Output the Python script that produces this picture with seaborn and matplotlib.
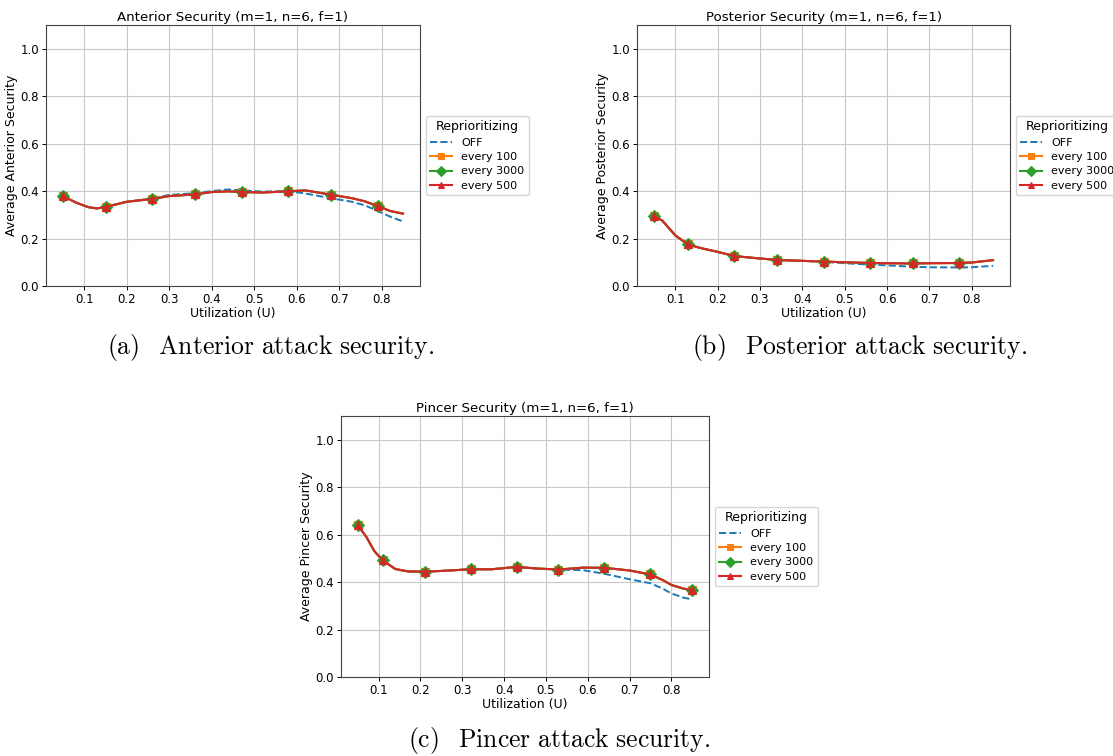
import matplotlib
matplotlib.use("Agg")
import matplotlib.pyplot as plt
import seaborn as sns

# --- data ---
# Anterior
ant_x = [0.05, 0.08, 0.11, 0.13, 0.15, 0.20, 0.26, 0.30, 0.36, 0.40, 0.44, 0.47,
         0.52, 0.58, 0.62, 0.68, 0.73, 0.76, 0.79, 0.82, 0.85]
ant_reprio = [0.379, 0.352, 0.332, 0.327, 0.333, 0.355, 0.367, 0.379, 0.386, 0.396, 0.399, 0.396,
              0.394, 0.399, 0.403, 0.385, 0.370, 0.357, 0.337, 0.316, 0.305]
ant_off = [0.379, 0.352, 0.332, 0.327, 0.333, 0.355, 0.369, 0.384, 0.391, 0.400, 0.407, 0.403,
           0.398, 0.400, 0.390, 0.370, 0.355, 0.340, 0.317, 0.292, 0.272]
ant_marks = [0.05, 0.15, 0.26, 0.36, 0.47, 0.58, 0.68, 0.79]

# Posterior
post_x = [0.05, 0.07, 0.10, 0.13, 0.16, 0.20, 0.24, 0.30, 0.34, 0.40, 0.45, 0.50,
          0.56, 0.60, 0.66, 0.70, 0.77, 0.80, 0.85]
post_reprio = [0.296, 0.275, 0.214, 0.175, 0.160, 0.144, 0.126, 0.116, 0.110, 0.106, 0.103, 0.100,
               0.097, 0.096, 0.095, 0.096, 0.097, 0.099, 0.109]
post_off = [0.296, 0.275, 0.214, 0.175, 0.160, 0.144, 0.126, 0.116, 0.110, 0.106, 0.102, 0.096,
            0.090, 0.087, 0.081, 0.079, 0.078, 0.079, 0.085]
post_marks = [0.05, 0.13, 0.24, 0.34, 0.45, 0.56, 0.66, 0.77]

# Pincer
pin_x = [0.05, 0.07, 0.09, 0.11, 0.14, 0.17, 0.21, 0.25, 0.32, 0.37, 0.43, 0.48,
         0.53, 0.59, 0.64, 0.70, 0.75, 0.78, 0.80, 0.83, 0.85]
pin_reprio = [0.640, 0.592, 0.530, 0.491, 0.455, 0.445, 0.444, 0.447, 0.454, 0.454, 0.464, 0.457,
              0.453, 0.461, 0.460, 0.449, 0.432, 0.408, 0.388, 0.372, 0.367]
pin_off = [0.640, 0.592, 0.530, 0.491, 0.455, 0.445, 0.444, 0.447, 0.454, 0.454, 0.464, 0.457,
           0.453, 0.450, 0.435, 0.412, 0.395, 0.372, 0.352, 0.334, 0.327]
pin_marks = [0.05, 0.11, 0.21, 0.32, 0.43, 0.53, 0.64, 0.75, 0.85]

panels = [
    ("Anterior", ant_x, ant_off, ant_reprio, ant_marks),
    ("Posterior", post_x, post_off, post_reprio, post_marks),
    ("Pincer", pin_x, pin_off, pin_reprio, pin_marks),
]
captions = ["(a)\\enspace\\ Anterior\\ attack\\ security.",
            "(b)\\enspace\\ Posterior\\ attack\\ security.",
            "(c)\\enspace\\ Pincer\\ attack\\ security."]

series = [("every 100", "#ff7f0e", "s"),
          ("every 3000", "#2ca02c", "D"),
          ("every 500", "#d62728", "^")]

plt.rcParams["mathtext.fontset"] = "cm"
W, H = 1113, 756
fig = plt.figure(figsize=(W / 100, H / 100), dpi=100)

# axes boxes in pixels: left, top, right, bottom
boxes = [(46, 25, 420, 286), (637, 25, 1010, 286), (341, 416, 709, 677)]
cap_pos = [(271, 348), (860, 348), (559, 740)]

for (name, xs, off, reprio, marks), (l, t, r, b), cap, (cx, cy) in zip(panels, boxes, captions, cap_pos):
    ax = fig.add_axes([l / W, 1 - b / H, (r - l) / W, (b - t) / H])
    idx = [xs.index(m) for m in marks]
    sns.lineplot(x=xs, y=off, ax=ax, color="#1f77b4", linestyle="--", linewidth=1.4,
                 label="OFF")
    for lab, col, mk in series:
        sns.lineplot(x=xs, y=reprio, ax=ax, color=col, linestyle="-", marker=mk,
                     markevery=idx, markersize=5.8, markeredgewidth=0.8,
                     markeredgecolor=col, linewidth=1.5, label=lab)
    ax.set_ylim(0, 1.1)
    ax.set_yticks([0.0, 0.2, 0.4, 0.6, 0.8, 1.0])
    ax.set_xticks([0.1, 0.2, 0.3, 0.4, 0.5, 0.6, 0.7, 0.8])
    ax.grid(True, color="#c8c8c8", linewidth=0.8)
    ax.tick_params(labelsize=8.5, length=3, width=0.7, pad=2)
    for s in ax.spines.values():
        s.set_color("#444444")
        s.set_linewidth(0.8)
    ax.set_title(f"{name} Security (m=1, n=6, f=1)", fontsize=9.6, pad=3)
    ax.set_xlabel("Utilization (U)", fontsize=9, labelpad=1)
    ax.set_ylabel(f"Average {name} Security", fontsize=9, labelpad=2)
    ax.legend(title="Reprioritizing", loc="center left", bbox_to_anchor=(1.0, 0.5),
              fontsize=8, title_fontsize=9, handlelength=2.0, borderpad=0.4,
              labelspacing=0.4, handletextpad=0.8, markerscale=0.8)
    fig.text(cx / W, 1 - cy / H, "$\\mathrm{" + cap + "}$", fontsize=18.5,
             ha="center", va="center")

fig.savefig("out.png", dpi=100)
